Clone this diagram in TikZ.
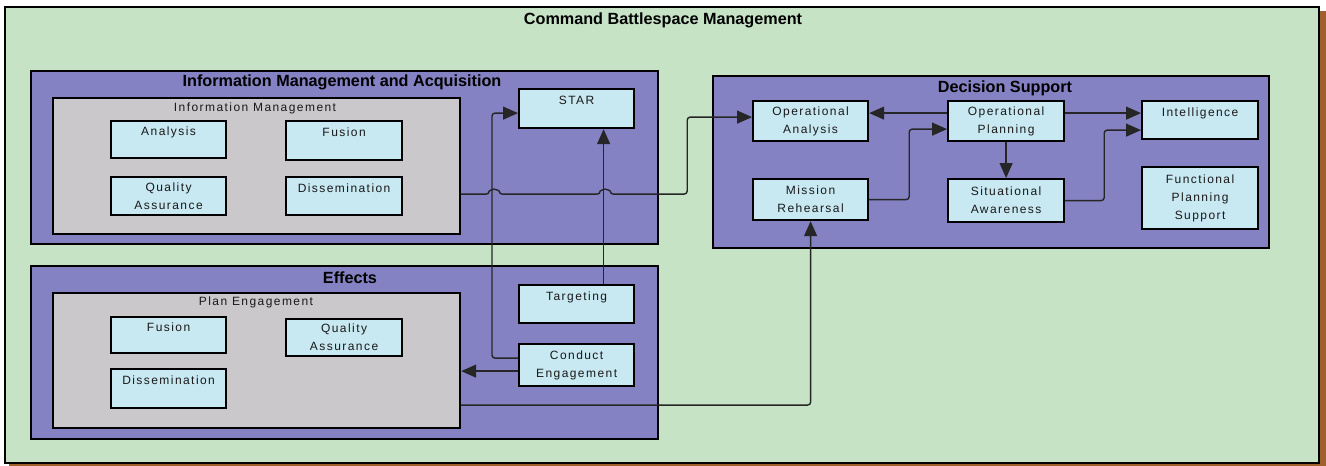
\documentclass[tikz,border=0pt]{standalone}
\usepackage{fontspec}
\setmainfont{Liberation Sans}
\newfontfamily\boxfont[LetterSpace=12]{Liberation Sans}
\usetikzlibrary{arrows.meta}
\definecolor{cbmgreen}{HTML}{C6E3C6}
\definecolor{grppurple}{HTML}{8482C2}
\definecolor{subgrey}{HTML}{CBC8CC}
\definecolor{fnblue}{HTML}{C8E8F2}
\definecolor{edgebrown}{HTML}{A0602C}
\tikzset{
  grp/.style={draw=black, line width=2.2pt, fill=grppurple, anchor=north west, inner sep=0pt},
  sub/.style={draw=black, line width=2.2pt, fill=subgrey, anchor=north west, inner sep=0pt},
  fn/.style={draw=black, line width=2.2pt, fill=fnblue, anchor=north west, inner sep=0pt, align=center,
    font=\boxfont\fontsize{12}{18}\selectfont, text=black!90},
  oneline/.style={text depth=16pt},
  grptitle/.style={font=\bfseries\fontsize{16.2}{18}\selectfont},
  subtitle/.style={font=\boxfont\fontsize{12}{18}\selectfont, text=black!90},
  link/.style={line width=1.4pt, draw=black!85, rounded corners=3pt},
  >={Triangle[length=15pt,width=13pt]},
}
\begin{document}
\begin{tikzpicture}[x=1pt,y=-1pt]
\useasboundingbox (0,0) rectangle (1326,466);
\fill[edgebrown] (9,11) rectangle (1326,466);
\draw[line width=2.4pt, fill=cbmgreen] (5,7) rectangle (1319,463);
\node[grptitle] (cbm) at (663,20) {Command Battlespace Management};

% information management and acquisition
\node[grp, minimum width=627pt, minimum height=173pt] (ima) at (30,70) {};
\node[grptitle] (imat) at (342,82) {Information Management and Acquisition};
\node[sub, minimum width=407pt, minimum height=136pt] (im) at (52,97) {};
\node[subtitle] (imt) at (255,108) {Information Management};
\node[fn, oneline, minimum width=115pt, minimum height=37pt] (ana) at (110,120) {Analysis};
\node[fn, oneline, minimum width=116pt, minimum height=39pt] (fus) at (285,120) {Fusion};
\node[fn, minimum width=115pt, minimum height=38pt] (qa) at (110,176) {Quality\\Assurance};
\node[fn, oneline, minimum width=116pt, minimum height=38pt] (dis) at (285,176) {Dissemination};
\node[fn, oneline, minimum width=115pt, minimum height=39pt] (star) at (518,88) {STAR};

% effects
\node[grp, minimum width=627pt, minimum height=173pt] (eff) at (30,265) {};
\node[grptitle] (efft) at (350,278) {Effects};
\node[sub, minimum width=407pt, minimum height=135pt] (pe) at (52,292) {};
\node[subtitle] (pet) at (256,302) {Plan Engagement};
\node[fn, oneline, minimum width=115pt, minimum height=36pt] (fus2) at (110,316) {Fusion};
\node[fn, minimum width=116pt, minimum height=37pt] (qa2) at (285,318) {Quality\\Assurance};
\node[fn, oneline, minimum width=115pt, minimum height=39pt] (dis2) at (110,368) {Dissemination};
\node[fn, oneline, minimum width=115pt, minimum height=38pt] (tgt) at (518,284) {Targeting};
\node[fn, minimum width=115pt, minimum height=42pt] (ce) at (518,343) {Conduct\\Engagement};

% decision support
\node[grp, minimum width=556pt, minimum height=172pt] (ds) at (712,75) {};
\node[grptitle] (dst) at (1005,88) {Decision Support};
\node[fn, minimum width=115pt, minimum height=40pt] (oa) at (752,100) {Operational\\Analysis};
\node[fn, minimum width=116pt, minimum height=40pt] (op) at (947,100) {Operational\\Planning};
\node[fn, oneline, minimum width=116pt, minimum height=38pt] (int) at (1141,100) {Intelligence};
\node[fn, minimum width=115pt, minimum height=41pt] (mr) at (752,178) {Mission\\Rehearsal};
\node[fn, minimum width=116pt, minimum height=43pt] (sa) at (947,178) {Situational\\Awareness};
\node[fn, minimum width=116pt, minimum height=62pt] (fps) at (1141,166) {Functional\\Planning\\Support};

% connectors
\draw[link,->] ([yshift=7pt]ce.west) -- ++(-26,0) |- ([yshift=-4.5pt]star.west);
\draw[link,->] ([xshift=27pt]tgt.north) -- ([xshift=27pt]star.south);
\draw[link,->] ([yshift=-6pt]ce.west) -- ([yshift=-6pt]ce.west -| pe.east);
\draw[link,->] ([yshift=-44.5pt]pe.east) -| (mr.south);
\draw[link,->] ([yshift=-28pt]im.east) -- ++(28,0) arc[start angle=180,end angle=360,radius=5]
  -- ++(101,0) arc[start angle=180,end angle=360,radius=5] -- ++(77,0) |- ([yshift=4pt]oa.west);
\draw[link,->] ([yshift=8pt]op.west) -- ([yshift=8pt]op.west -| oa.east);
\draw[link,->] (mr.east) -- ++(40,0) |- ([yshift=-8pt]op.west);
\draw[link,->] (op.south) -- (sa.north);
\draw[link,->] ([yshift=8pt]op.east) -- ([yshift=8pt]op.east -| int.west);
\draw[link,->] (sa.east) -- ++(39,0) |- ([yshift=-10pt]int.west);
\end{tikzpicture}
\end{document}
